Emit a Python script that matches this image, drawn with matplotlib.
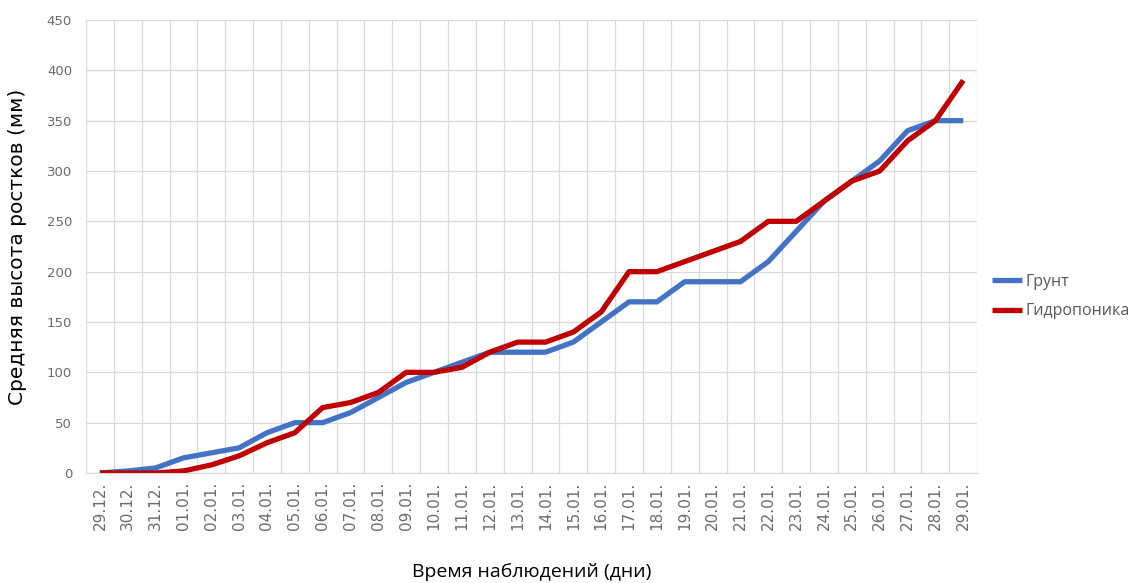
import matplotlib.pyplot as plt
import numpy as np

# Observation dates and average sprout heights (mm)
dates = ["29.12.", "30.12.", "31.12."] + [f"{d:02d}.01." for d in range(1, 30)]
soil = [0, 2, 5, 15, 20, 25, 40, 50, 50, 60, 75, 90, 100, 110, 120, 120,
        120, 130, 150, 170, 170, 190, 190, 190, 210, 240, 270, 290, 310,
        340, 350, 350]
hydro = [0, 0, 0, 2, 8, 17, 30, 40, 65, 70, 80, 100, 100, 105, 120, 130,
         130, 140, 160, 200, 200, 210, 220, 230, 250, 250, 270, 290, 300,
         330, 350, 390]

fig = plt.figure(figsize=(11.31, 5.83), dpi=100)
ax = fig.add_axes([0.076, 0.1887, 0.788, 0.777])

x = np.arange(len(dates))
ax.plot(x, soil, color="#4472C4", lw=3.8, label="Грунт", solid_capstyle="butt")
ax.plot(x, hydro, color="#C00000", lw=3.8, label="Гидропоника", solid_capstyle="butt")

ax.set_xlim(-0.45, len(dates) - 0.5)
ax.set_ylim(0, 450)
ax.set_yticks(range(0, 451, 50))
ax.set_xticks(x)
ax.set_xticklabels(dates, rotation=90, fontsize=11, color="#6b6b6b", family="DejaVu Sans")
ax.tick_params(axis="y", labelsize=9.5, labelcolor="#6b6b6b", length=0, pad=10)
ax.tick_params(axis="x", length=0, pad=6)

# gridlines on category boundaries, like a spreadsheet chart
ax.set_xticks(np.arange(-0.5, len(dates)), minor=True)
ax.tick_params(axis="x", which="minor", length=0)
ax.grid(True, which="minor", axis="x", color="#d9d9d9", lw=0.9)
ax.grid(True, which="major", axis="y", color="#d9d9d9", lw=0.9)
ax.set_axisbelow(True)

for side in ["top", "right", "left"]:
    ax.spines[side].set_visible(False)
ax.spines["bottom"].set_color("#d9d9d9")

ax.set_ylabel("Средняя высота ростков (мм)", fontsize=14.5, family="DejaVu Sans", labelpad=14)
ax.set_xlabel("Время наблюдений (дни)", fontsize=14, family="Open Sans", labelpad=24)

leg = ax.legend(loc="center left", bbox_to_anchor=(1.0, 0.39), frameon=False,
                handlelength=1.9, handletextpad=0.2, labelspacing=0.85,
                prop={"family": "Open Sans", "size": 11.5})
for t in leg.get_texts():
    t.set_color("#595959")

fig.savefig("out.png", dpi=100)
